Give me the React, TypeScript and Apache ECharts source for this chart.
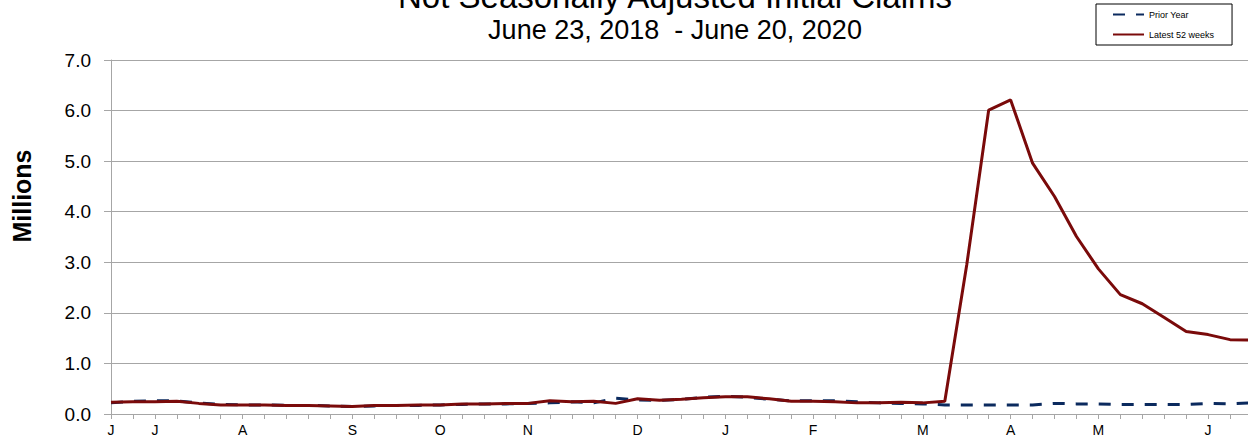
import React, { useEffect, useRef } from "react";
import * as echarts from "echarts";

const weeks = [
  "6/22/19", "6/29/19", "7/6/19", "7/13/19", "7/20/19", "7/27/19", "8/3/19", "8/10/19", "8/17/19", "8/24/19",
  "8/31/19", "9/7/19", "9/14/19", "9/21/19", "9/28/19", "10/5/19", "10/12/19", "10/19/19", "10/26/19", "11/2/19",
  "11/9/19", "11/16/19", "11/23/19", "11/30/19", "12/7/19", "12/14/19", "12/21/19", "12/28/19", "1/4/20", "1/11/20",
  "1/18/20", "1/25/20", "2/1/20", "2/8/20", "2/15/20", "2/22/20", "2/29/20", "3/7/20", "3/14/20", "3/21/20",
  "3/28/20", "4/4/20", "4/11/20", "4/18/20", "4/25/20", "5/2/20", "5/9/20", "5/16/20", "5/23/20", "5/30/20",
  "6/6/20", "6/13/20", "6/20/20",
];

const monthLabelWeeks = ["6/22/19", "7/6/19", "8/3/19", "9/7/19", "10/5/19", "11/2/19", "12/7/19", "1/4/20", "2/1/20", "3/7/20", "4/4/20", "5/2/20", "6/6/20"];
const monthLetters = ["J", "J", "A", "S", "O", "N", "D", "J", "F", "M", "A", "M", "J"];

const priorYear = [
  0.22, 0.25, 0.26, 0.26, 0.22, 0.19, 0.18, 0.18, 0.17, 0.17,
  0.16, 0.15, 0.16, 0.17, 0.17, 0.18, 0.19, 0.20, 0.20, 0.21,
  0.22, 0.24, 0.22, 0.31, 0.28, 0.27, 0.29, 0.33, 0.35, 0.33,
  0.29, 0.26, 0.26, 0.26, 0.24, 0.22, 0.21, 0.20, 0.18, 0.18,
  0.18, 0.18, 0.18, 0.21, 0.20, 0.20, 0.19, 0.19, 0.19, 0.19,
  0.21, 0.20, 0.22,
];

const latest52 = [
  0.23, 0.24, 0.24, 0.25, 0.21, 0.18, 0.18, 0.18, 0.17, 0.17,
  0.16, 0.15, 0.17, 0.17, 0.18, 0.18, 0.20, 0.20, 0.21, 0.21,
  0.26, 0.24, 0.25, 0.21, 0.30, 0.27, 0.29, 0.32, 0.34, 0.34,
  0.30, 0.25, 0.25, 0.24, 0.22, 0.22, 0.23, 0.22, 0.25, 2.95,
  6.01, 6.21, 4.96, 4.30, 3.51, 2.87, 2.36, 2.18, 1.91, 1.63,
  1.57, 1.47, 1.46,
];

const FONT = "'Liberation Sans', Arial, sans-serif";

export default function App() {
  const ref = useRef<HTMLDivElement>(null);
  useEffect(() => {
    if (!ref.current) return;
    const chart = echarts.init(ref.current, undefined, { renderer: "svg" });
    chart.setOption({
      animation: false,
      backgroundColor: "#ffffff",
      textStyle: { fontFamily: FONT },
      grid: { left: 111, right: -4, top: 60, bottom: 23, outerBoundsMode: "none" },
      legend: {
        orient: "vertical",
        left: 1096,
        top: 4,
        padding: [6, 18, 6, 16],
        itemGap: 11,
        itemWidth: 31,
        itemHeight: 10,
        borderColor: "#000000",
        borderWidth: 1,
        itemStyle: { opacity: 0 },
        textStyle: { fontSize: 9, color: "#000000", fontFamily: FONT },
        data: ["Prior Year", "Latest 52 weeks"],
      },
      graphic: [
        {
          type: "text",
          x: 675,
          y: -4,
          style: {
            text: "Not Seasonally Adjusted Initial Claims",
            font: `33px ${FONT}`,
            fill: "#000000",
            textAlign: "center",
            textVerticalAlign: "middle",
          },
        },
        {
          type: "text",
          x: 675,
          y: 30,
          style: {
            text: "June 23, 2018  - June 20, 2020",
            font: `27px ${FONT}`,
            fill: "#000000",
            textAlign: "center",
            textVerticalAlign: "middle",
          },
        },
        {
          type: "text",
          x: 22,
          y: 196,
          rotation: Math.PI / 2,
          style: {
            text: "Millions",
            font: `bold 25px ${FONT}`,
            fill: "#000000",
            textAlign: "center",
            textVerticalAlign: "middle",
          },
        },
      ],
      xAxis: {
        type: "category",
        data: weeks,
        boundaryGap: false,
        axisLine: { lineStyle: { color: "#a6a6a6", width: 1 } },
        axisTick: { show: true, interval: 0, length: 5, lineStyle: { color: "#a6a6a6" } },
        axisLabel: {
          interval: 0,
          margin: 9,
          fontSize: 14,
          color: "#000000",
          fontFamily: FONT,
          formatter: (v: string) => {
            const k = monthLabelWeeks.indexOf(v);
            return k >= 0 ? monthLetters[k] : "";
          },
        },
        splitLine: { show: false },
      },
      yAxis: {
        type: "value",
        min: 0,
        max: 7,
        interval: 1,
        axisLine: { show: true, lineStyle: { color: "#a6a6a6", width: 1 } },
        axisTick: { show: true, length: 7, lineStyle: { color: "#a6a6a6" } },
        axisLabel: {
          margin: 20,
          fontSize: 19,
          color: "#000000",
          fontFamily: FONT,
          formatter: (v: number) => v.toFixed(1),
        },
        splitLine: { show: true, lineStyle: { color: "#a6a6a6", width: 1 } },
      },
      series: [
        {
          name: "Prior Year",
          type: "line",
          data: priorYear,
          symbol: "none",
          lineStyle: { color: "#0b2a5e", width: 3, type: [12, 11] },
          itemStyle: { color: "#0b2a5e" },
        },
        {
          name: "Latest 52 weeks",
          type: "line",
          data: latest52,
          symbol: "none",
          lineStyle: { color: "#7a0a0a", width: 3 },
          itemStyle: { color: "#7a0a0a" },
        },
      ],
    });
    return () => chart.dispose();
  }, []);
  return <div ref={ref} style={{ position: "absolute", left: 0, top: 0, width: 1248, height: 437 }} />;
}
